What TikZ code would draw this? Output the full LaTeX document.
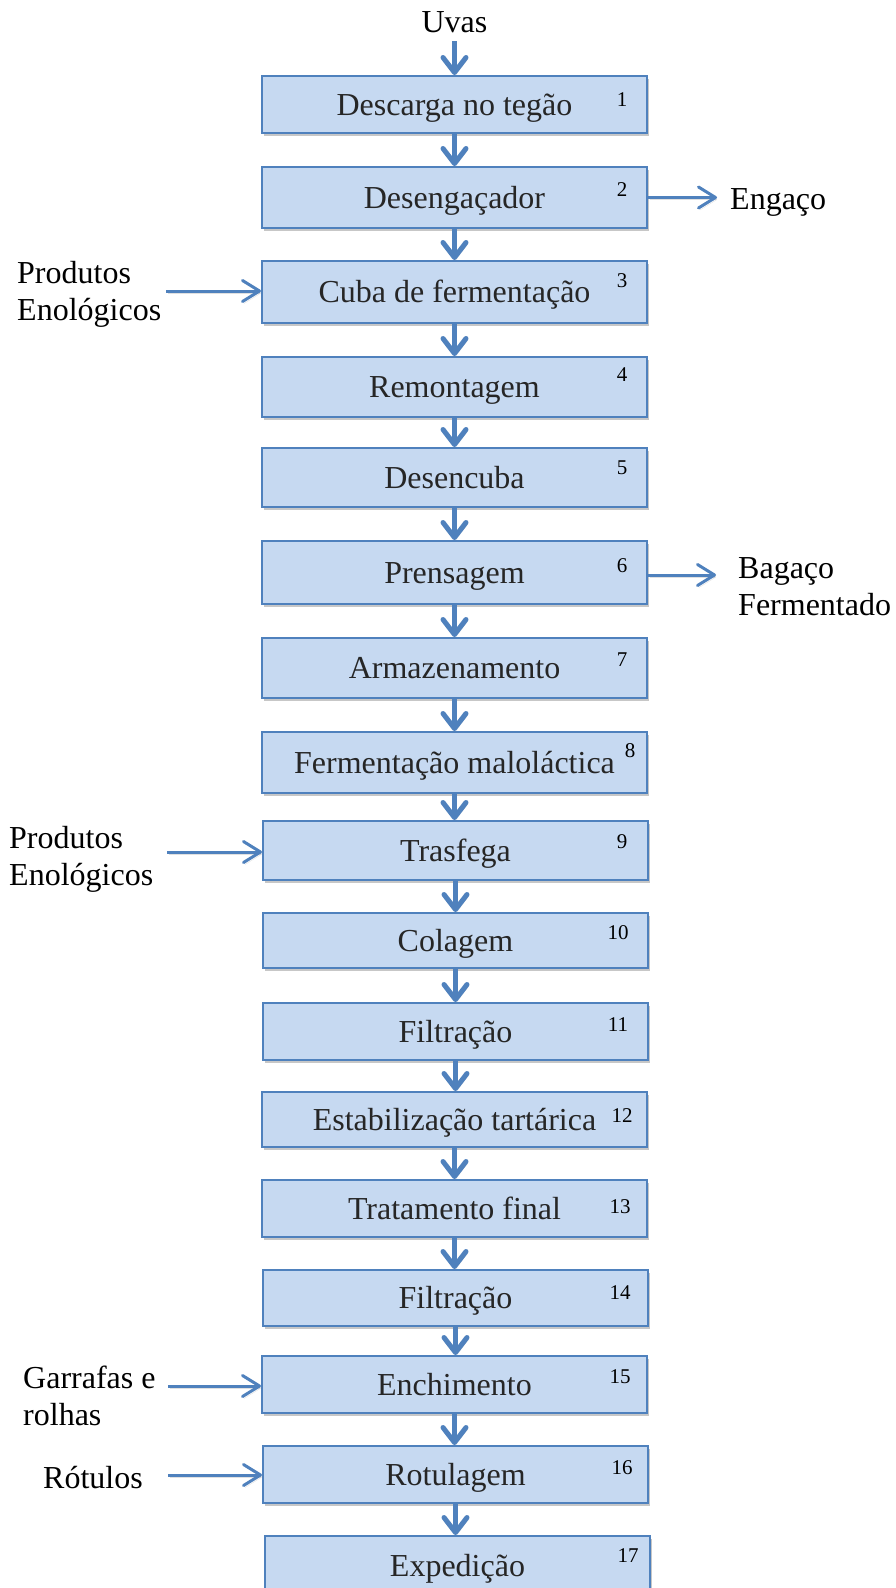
\documentclass[tikz,border=0pt]{standalone}
\usepackage{fontspec}
\setmainfont{Liberation Serif}
\usetikzlibrary{arrows.meta,shadows,calc}
\definecolor{boxfill}{RGB}{198,217,241}
\definecolor{boxline}{RGB}{79,129,189}
\definecolor{boxtext}{RGB}{38,38,38}
\tikzset{
 stepbox/.style={draw=boxline, fill=boxfill, line width=2pt, minimum width=385pt, inner sep=0pt,
   text height=21pt, text depth=0pt, font=\fontsize{32}{37}\selectfont, text=boxtext,
   drop shadow={shadow xshift=2pt, shadow yshift=-3pt, opacity=0.22, fill=black}},
 numlabel/.style={font=\fontsize{21}{24}\selectfont, anchor=base, inner sep=0pt},
 sidelabel/.style={font=\fontsize{32}{37}\selectfont, inner sep=0pt, align=left},
 arrowshadow/.style={preaction={draw=black, opacity=0.12, transform canvas={shift={(1.5pt,-2pt)}}}},
 varrow/.style={draw=boxline, line width=5pt, arrowshadow, -{Straight Barb[length=15pt,width=23pt,round]}},
 sarrow/.style={draw=boxline, line width=3pt, arrowshadow, -{Straight Barb[length=17pt,width=21pt,round]}},
}
\begin{document}
\begin{tikzpicture}[x=1pt,y=-1pt]
\useasboundingbox (0,0) rectangle (895,1588);
\clip (0,0) rectangle (895,1588);
\fill[white] (0,0) rectangle (895,1588);

\node[sidelabel, anchor=base] (uvas) at (454.5,32.5) {Uvas};

\node[stepbox, minimum height=57pt] (b1) at (454.5,104.5) {Descarga no tegão};
\node[stepbox, minimum height=61pt] (b2) at (454.5,197.5) {Desengaçador};
\node[stepbox, minimum height=62pt] (b3) at (454.5,292) {Cuba de fermentação};
\node[stepbox, minimum height=60pt] (b4) at (454.5,387) {Remontagem};
\node[stepbox, minimum height=59pt] (b5) at (454.5,477.5) {Desencuba};
\node[stepbox, minimum height=63pt] (b6) at (454.5,572.5) {Prensagem};
\node[stepbox, minimum height=60pt] (b7) at (454.5,668) {Armazenamento};
\node[stepbox, minimum height=61pt] (b8) at (454.5,762.5) {Fermentação maloláctica};
\node[stepbox, minimum height=59pt] (b9) at (455.5,850.5) {Trasfega};
\node[stepbox, minimum height=55pt] (b10) at (455.5,940.5) {Colagem};
\node[stepbox, minimum height=57pt] (b11) at (455.5,1031.5) {Filtração};
\node[stepbox, minimum height=55pt] (b12) at (454.5,1119.5) {Estabilização tartárica};
\node[stepbox, minimum height=57pt] (b13) at (454.5,1208.5) {Tratamento final};
\node[stepbox, minimum height=56pt] (b14) at (455.5,1298) {Filtração};
\node[stepbox, minimum height=57pt] (b15) at (454.5,1384.5) {Enchimento};
\node[stepbox, minimum height=57pt] (b16) at (455.5,1474.5) {Rotulagem};
\node[stepbox, minimum height=60pt] (b17) at (457.5,1566) {Expedição};

\node[numlabel] (n1) at (622,106) {1};
\node[numlabel] (n2) at (622,196) {2};
\node[numlabel] (n3) at (622,287) {3};
\node[numlabel] (n4) at (622,381) {4};
\node[numlabel] (n5) at (622,474) {5};
\node[numlabel] (n6) at (622,572) {6};
\node[numlabel] (n7) at (622,666) {7};
\node[numlabel] (n8) at (630,757) {8};
\node[numlabel] (n9) at (622,848) {9};
\node[numlabel] (n10) at (618,939) {10};
\node[numlabel] (n11) at (618,1031) {11};
\node[numlabel] (n12) at (622,1122) {12};
\node[numlabel] (n13) at (620,1213) {13};
\node[numlabel] (n14) at (620,1299) {14};
\node[numlabel] (n15) at (620,1383) {15};
\node[numlabel] (n16) at (622,1474) {16};
\node[numlabel] (n17) at (628,1562) {17};

\draw[varrow] ([yshift=-8pt]uvas.south) -- (uvas.south |- b1.north);
\foreach \a/\b in {1/2,2/3,3/4,4/5,5/6,6/7,7/8,8/9,9/10,10/11,11/12,12/13,13/14,14/15,15/16,16/17}
  \draw[varrow] (b\a.south) -- (b\a.south |- b\b.north);

% right outputs
\coordinate (e1) at (717,197.5);
\draw[sarrow] (b2.east |- e1) -- (e1);
\node[sidelabel, anchor=base west] (engaco) at (730,209) {Engaço};
\coordinate (e2) at (716,575);
\draw[sarrow] (b6.east |- e2) -- (e2);
\node[sidelabel, anchor=base west] (bagaco) at (738,615) {Bagaço\\Fermentado};

% left inputs
\node[sidelabel, anchor=base west] (prod1) at (17,320.5) {Produtos\\Enológicos};
\coordinate (l1) at (166,291);
\draw[sarrow] (l1) -- (l1 -| b3.west);
\node[sidelabel, anchor=base west] (prod2) at (9,885) {Produtos\\Enológicos};
\coordinate (l2) at (167,852);
\draw[sarrow] (l2) -- (l2 -| b9.west);
\node[sidelabel, anchor=base west] (garr) at (23,1425) {Garrafas e\\rolhas};
\coordinate (l3) at (168,1386);
\draw[sarrow] (l3) -- (l3 -| b15.west);
\node[sidelabel, anchor=base west] (rot) at (43,1488) {Rótulos};
\coordinate (l4) at (168,1475);
\draw[sarrow] (l4) -- (l4 -| b16.west);
\end{tikzpicture}
\end{document}
